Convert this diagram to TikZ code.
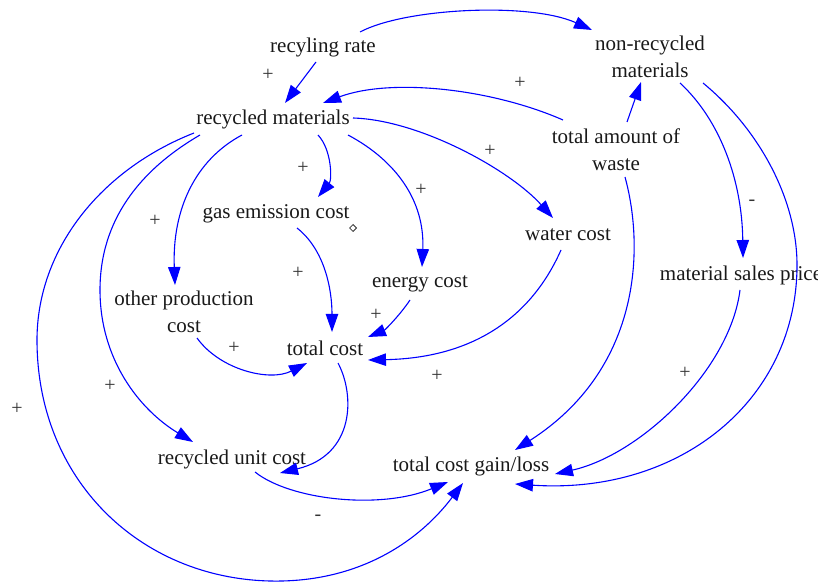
\documentclass[tikz,border=0pt]{standalone}
\usepackage{fontspec}
\setmainfont{Liberation Serif}
\usetikzlibrary{arrows.meta,shapes.geometric}
\begin{document}
\begin{tikzpicture}[x=0.5pt,y=-0.5pt,
  var/.style={inner sep=0pt,align=center,text=black!90,font=\fontsize{10.5}{13.5}\selectfont},
  lnk/.style={draw=blue,line width=0.55pt,-{Triangle[length=9pt,width=6.2pt]}},
  pol/.style={inner sep=0pt,text=black!80,font=\fontsize{10}{12}\selectfont}]
\useasboundingbox (0,0) rectangle (818,582);
% variables
\node[var] (rr)  at (323,47)  {recyling rate};
\node[var] (nrm) at (650,57)  {non-recycled\\materials};
\node[var] (rm)  at (273,119) {recycled materials};
\node[var] (taw) at (616,150) {total amount of\\waste};
\node[var] (gec) at (276,214) {gas emission cost};
\node[var] (wc)  at (568,235) {water cost};
\node[var] (ec)  at (420,284) {energy cost};
\node[var] (opc) at (184,312) {other production\\cost};
\node[var] (msp) at (741,275) {material sales price};
\node[var] (tc)  at (325,348) {total cost};
\node[var] (ruc) at (232,459) {recycled unit cost};
\node[var] (tcg) at (471,466) {total cost gain/loss};
\node[draw=black!80,diamond,inner sep=0pt,minimum size=3.6pt,line width=0.4pt] (mk) at (353,228) {};
% links
\draw[lnk] ([shift={(37,-15)}]rr.center) .. controls (405,8) and (530,2) .. ([shift={(-58,-27)}]nrm.center);
\draw[lnk] ([shift={(-7,15)}]rr.center) -- ([shift={(12,-16)}]rm.center);
\draw[lnk] ([shift={(-53,-30)}]taw.center) .. controls (490,88) and (390,78) .. ([shift={(50,-16)}]rm.center);
\draw[lnk] ([shift={(11,-28)}]taw.center) -- ([shift={(-9,25)}]nrm.center);
\draw[lnk] ([shift={(45,16)}]rm.center) .. controls (332,150) and (332,180) .. ([shift={(42,-17)}]gec.center);
\draw[lnk] ([shift={(75,16)}]rm.center) .. controls (395,160) and (425,200) .. ([shift={(2,-17)}]ec.center);
\draw[lnk] ([shift={(80,-1)}]rm.center) .. controls (420,120) and (510,170) .. ([shift={(-15,-17)}]wc.center);
\draw[lnk] ([shift={(-31,16)}]rm.center) .. controls (195,160) and (172,210) .. ([shift={(-9,-27)}]opc.center);
\draw[lnk] ([shift={(-73,16)}]rm.center) .. controls (140,170) and (100,220) .. (100,290) .. controls (100,360) and (140,410) .. ([shift={(-39,-17)}]ruc.center);
\draw[lnk] ([shift={(-79,14)}]rm.center) .. controls (100,170) and (37,250) .. (37,340) .. controls (37,480) and (140,578) .. (270,581) .. controls (360,583) and (420,540) .. ([shift={(-8,17)}]tcg.center);
\draw[lnk] ([shift={(21,14)}]gec.center) .. controls (325,250) and (332,290) .. ([shift={(7,-16)}]tc.center);
\draw[lnk] ([shift={(-10,16)}]ec.center) .. controls (400,315) and (385,330) .. ([shift={(43,-11)}]tc.center);
\draw[lnk] ([shift={(-7,15)}]wc.center) .. controls (530,320) and (470,358) .. ([shift={(43,12)}]tc.center);
\draw[lnk] ([shift={(13,26)}]opc.center) .. controls (220,370) and (270,382) .. ([shift={(-18,15)}]tc.center);
\draw[lnk] ([shift={(13,15)}]tc.center) .. controls (355,395) and (355,455) .. ([shift={(48,14)}]ruc.center);
\draw[lnk] ([shift={(23,13)}]ruc.center) .. controls (290,500) and (380,510) .. ([shift={(-23,16)}]tcg.center);
\draw[lnk] ([shift={(9,27)}]taw.center) .. controls (645,250) and (640,370) .. ([shift={(44,-16)}]tcg.center);
\draw[lnk] ([shift={(30,26)}]nrm.center) .. controls (720,120) and (742,180) .. ([shift={(2,-17)}]msp.center);
\draw[lnk] ([shift={(-1,15)}]msp.center) .. controls (730,370) and (640,455) .. ([shift={(84,8)}]tcg.center);
\draw[lnk] ([shift={(53,26)}]nrm.center) .. controls (760,130) and (797,200) .. (797,265) .. controls (797,400) and (680,495) .. ([shift={(44,18)}]tcg.center);
% polarities
\node[pol] (p1)  at (268,75)  {+};
\node[pol] (p2)  at (520,83)  {+};
\node[pol] (p3)  at (303,168) {+};
\node[pol] (p4)  at (421,190) {+};
\node[pol] (p5)  at (490,151) {+};
\node[pol] (p6)  at (155,221) {+};
\node[pol] (p7)  at (110,386) {+};
\node[pol] (p8)  at (17,409)  {+};
\node[pol] (p9)  at (298,273) {+};
\node[pol] (p10) at (376,315) {+};
\node[pol] (p11) at (437,376) {+};
\node[pol] (p12) at (234,348) {+};
\node[pol] (p13) at (318,518) {-};
\node[pol] (p14) at (752,203) {-};
\node[pol] (p15) at (685,373) {+};
\end{tikzpicture}
\end{document}
